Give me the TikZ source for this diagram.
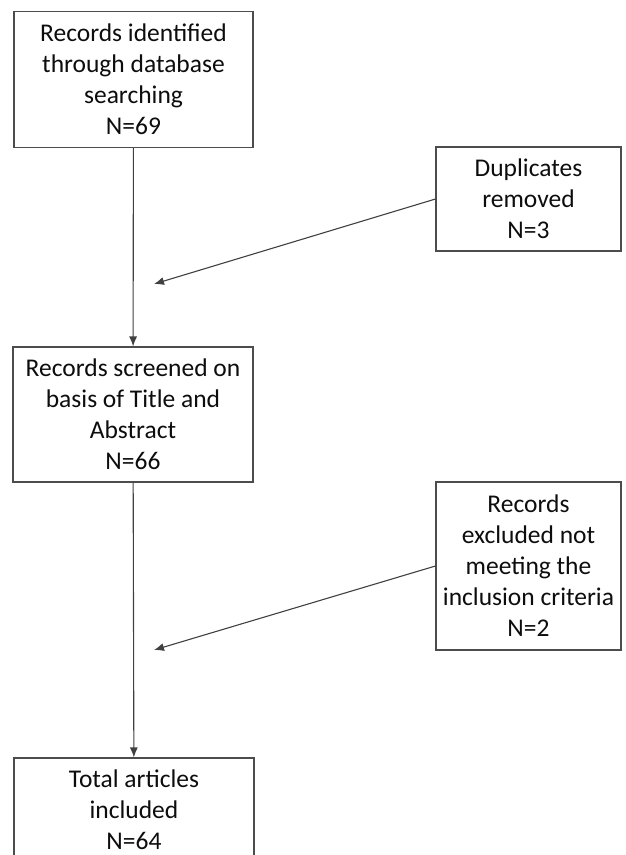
\documentclass[tikz,border=0pt]{standalone}
\usepackage{fontspec}
\setmainfont{Carlito}
\usetikzlibrary{arrows.meta}

\tikzset{
    box/.style={draw=black!70, line width=1.1pt, align=center, inner sep=0pt,
        font=\fontsize{25.5}{31}\selectfont, text=black!95},
    link/.style={draw=black!75, line width=1.1pt, -{Latex[length=10pt,width=8pt]}}
}

\begin{document}
\begin{tikzpicture}[x=1pt,y=1pt]
    \useasboundingbox (0,0) rectangle (625,-855);
    \clip (0,0) rectangle (625,-855);
    % Main column
    \node[box, minimum width=239pt, minimum height=136pt] (ident) at (133.5,-79.5)
        {Records identified\\through database\\searching\\N=69};
    \node[box, minimum width=240pt, minimum height=135pt] (screen) at (133,-414.5)
        {Records screened on\\basis of Title and\\Abstract\\N=66};
    \node[box, minimum width=240pt, minimum height=104pt] (total) at (134,-810)
        {Total articles\\included\\N=64};
    % Side boxes
    \node[box, minimum width=185pt, minimum height=104pt] (dup) at (528.5,-199)
        {Duplicates\\removed\\N=3};
    \node[box, minimum width=185pt, minimum height=168pt] (excl) at (528.5,-566)
        {Records\\excluded not\\meeting the\\inclusion criteria\\N=2};
    % Arrow ends on the main line
    \coordinate (m1) at (154,-284);
    \coordinate (m2) at (154,-650);
    % Connectors
    \draw[link] (ident) -- (screen);
    \draw[link] (screen) -- (total);
    \draw[link] (dup.west) -- (m1);
    \draw[link] (excl.west) -- (m2);
\end{tikzpicture}
\end{document}
